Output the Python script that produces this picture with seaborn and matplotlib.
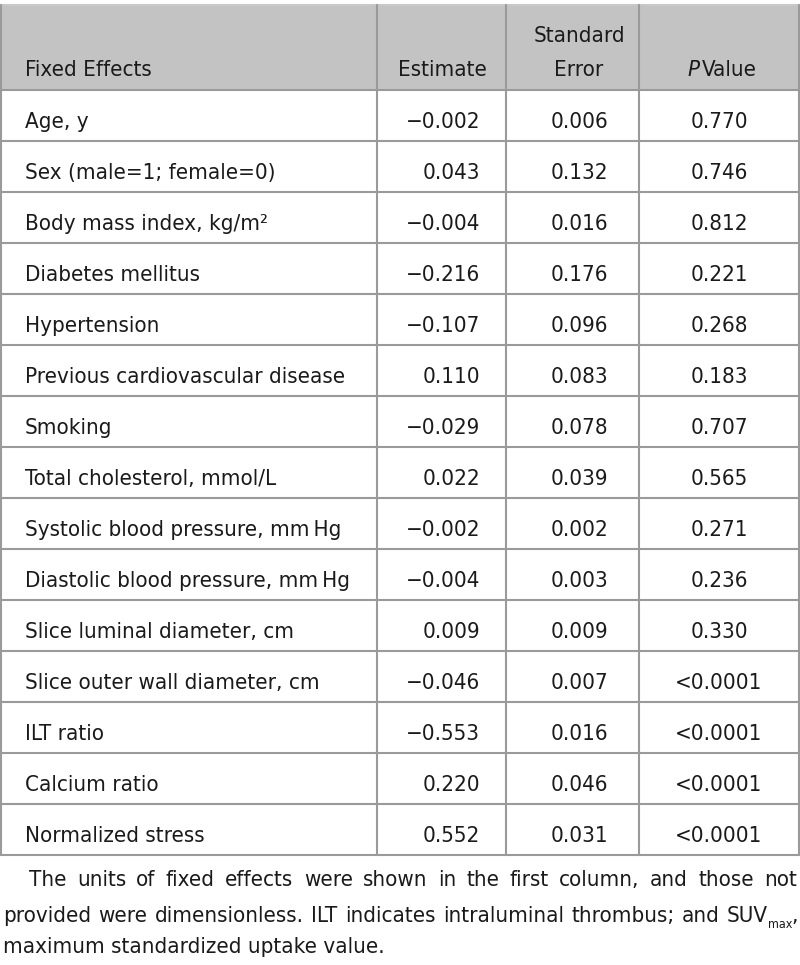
import numpy as np
import pandas as pd
import seaborn as sns
import matplotlib.pyplot as plt

effects = ['Age, y', 'Sex (male=1; female=0)', 'Body mass index, kg/m\u00b2',
           'Diabetes mellitus', 'Hypertension', 'Previous cardiovascular disease',
           'Smoking', 'Total cholesterol, mmol/L', 'Systolic blood pressure, mm\u2009Hg',
           'Diastolic blood pressure, mm\u2009Hg', 'Slice luminal diameter, cm',
           'Slice outer wall diameter, cm', 'ILT ratio', 'Calcium ratio',
           'Normalized stress']
estimates = [-0.002, 0.043, -0.004, -0.216, -0.107, 0.110, -0.029, 0.022,
             -0.002, -0.004, 0.009, -0.046, -0.553, 0.220, 0.552]
std_errors = [0.006, 0.132, 0.016, 0.176, 0.096, 0.083, 0.078, 0.039,
              0.002, 0.003, 0.009, 0.007, 0.016, 0.046, 0.031]
p_values = ['0.770', '0.746', '0.812', '0.221', '0.268', '0.183', '0.707', '0.565',
            '0.271', '0.236', '0.330', '<0.0001', '<0.0001', '<0.0001', '<0.0001']

footnote_1 = 'The units of fixed effects were shown in the first column, and those not'
footnote_2 = 'provided were dimensionless. ILT indicates intraluminal thrombus; and'
footnote_3 = 'maximum standardized uptake value.'

df = pd.DataFrame({'effect': effects, 'estimate': estimates,
                   'se': std_errors, 'p': p_values})

sns.set_theme(style='white')
plt.rcParams['font.family'] = ['DejaVu Sans']
plt.rcParams['font.stretch'] = 'condensed'

W, H = 800, 965
fig = plt.figure(figsize=(W / 100, H / 100), dpi=100)
ax = fig.add_axes([0, 0, 1, 1])
ax.set_xlim(0, W)
ax.set_ylim(H, 0)
ax.axis('off')

FS = 16
TXT = '#1a1a1a'
LINE = '#9a9a9a'
col_x = [1, 377, 506, 639, 799]
top, head_bot, row_h = 5, 90, 51.0
n = len(df)
bottom = head_bot + n * row_h

# header background
ax.fill_between([col_x[0], col_x[-1]], top, head_bot, color='#c3c3c3', lw=0)

# grid
for y in [head_bot + i * row_h for i in range(n + 1)]:
    ax.plot([col_x[0], col_x[-1]], [y, y], color=LINE, lw=1.5)
ax.plot([col_x[0], col_x[-1]], [top, top], color='#c8c8c8', lw=1.5)
for x in col_x:
    ax.plot([x, x], [top, bottom], color=LINE, lw=1.5)

# header
ax.text(25, 76, 'Fixed Effects', fontsize=FS, color=TXT, ha='left', va='baseline')
ax.text(487, 76, 'Estimate', fontsize=FS, color=TXT, ha='right', va='baseline')
ax.text(579, 42, 'Standard', fontsize=FS, color=TXT, ha='center', va='baseline')
ax.text(579, 76, 'Error', fontsize=FS, color=TXT, ha='center', va='baseline')
ax.text(700, 76, 'P', fontsize=FS, color=TXT, ha='right', va='baseline', style='italic')
ax.text(702, 76, 'Value', fontsize=FS, color=TXT, ha='left', va='baseline')


def fmt(v):
    return f'{v:.3f}'.replace('-', '\u2212')


for i, row in df.iterrows():
    yb = head_bot + i * row_h + 38
    ax.text(25, yb, row['effect'], fontsize=FS, color=TXT, ha='left', va='baseline')
    ax.text(480, yb, fmt(row['estimate']), fontsize=FS, color=TXT, ha='right', va='baseline')
    ax.text(579, yb, fmt(row['se']), fontsize=FS, color=TXT, ha='center', va='baseline')
    ax.text(719, yb, row['p'], fontsize=FS, color=TXT, ha='center', va='baseline')

renderer = fig.canvas.get_renderer()


def width(s, size=FS):
    t = ax.text(0, 0, s, fontsize=size)
    w = t.get_window_extent(renderer).width
    t.remove()
    return w


def justify(words, x0, x1, yb):
    widths = [width(w) for w in words]
    gap = (x1 - x0 - sum(widths)) / (len(words) - 1)
    x = x0
    for w, wd in zip(words, widths):
        ax.text(x, yb, w, fontsize=FS, color=TXT, ha='left', va='baseline')
        x += wd + gap


# footnote
justify(footnote_1.split(), 29, 797, 886)

# second line ends with SUV subscript max and a comma
x_end = 798
ax.text(x_end, 922, ',', fontsize=FS, color=TXT, ha='right', va='baseline')
sub_right = x_end - width(',') + 1
ax.text(sub_right, 928, 'max', fontsize=9, color=TXT, ha='right', va='baseline')
suv_right = sub_right - width('max', 9)
ax.text(suv_right, 922, 'SUV', fontsize=FS, color=TXT, ha='right', va='baseline')
line2_end = suv_right - width('SUV') - width('a') * 0.6
justify(footnote_2.split(), 3, line2_end, 922)

ax.text(3, 953, footnote_3, fontsize=FS, color=TXT, ha='left', va='baseline')

fig.savefig('out.png', dpi=100)
